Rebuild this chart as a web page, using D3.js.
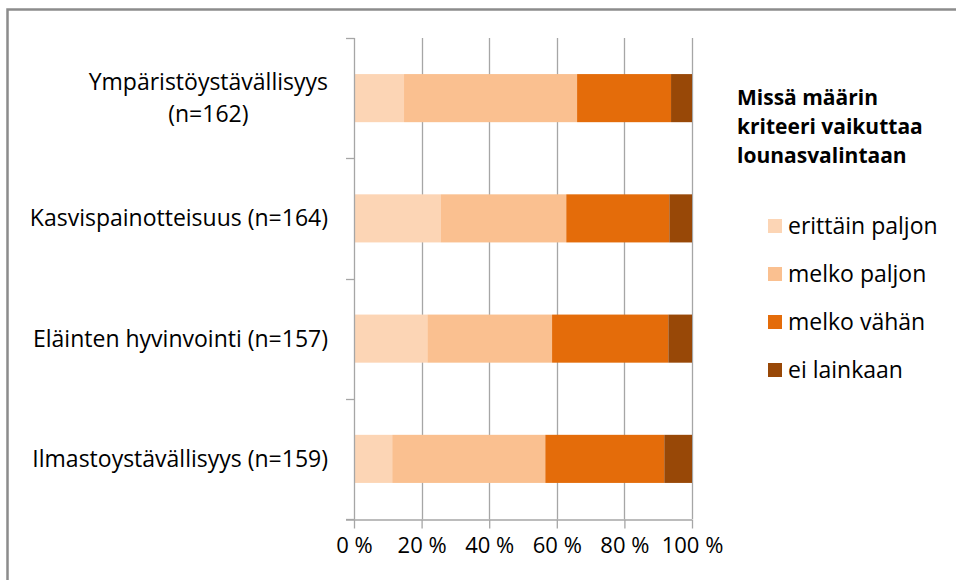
<!DOCTYPE html>
<html>
<head>
<meta charset="utf-8">
<script src="https://cdn.jsdelivr.net/npm/d3@7"></script>
<style>
  html, body { margin: 0; padding: 0; background: #fff; }
  svg { display: block; }
  text { font-family: "Open Sans", "Liberation Sans", sans-serif; }
</style>
</head>
<body>
<svg id="chart" width="956" height="580"></svg>
<script>
const categories = [
  ["Ympäristöystävällisyys", "(n=162)"],
  ["Kasvispainotteisuus (n=164)"],
  ["Eläinten hyvinvointi (n=157)"],
  ["Ilmastoystävällisyys (n=159)"]
];
const seriesNames = ["erittäin paljon", "melko paljon", "melko vähän", "ei lainkaan"];
const erittainPaljon = [14.8, 25.6, 21.7, 11.3];
const melkoPaljon    = [51.2, 37.2, 36.9, 45.3];
const melkoVahan     = [27.8, 30.5, 34.4, 35.2];
const eiLainkaan     = [6.2, 6.7, 7.0, 8.2];
const seriesColors = ["#FCD5B5", "#FAC090", "#E46C0A", "#984807"];
const tickValues = [0, 20, 40, 60, 80, 100];
const legendTitle = ["Missä määrin", "kriteeri vaikuttaa", "lounasvalintaan"];

const seriesValues = [erittainPaljon, melkoPaljon, melkoVahan, eiLainkaan];
const keys = categories.map((c, i) => i);
const rows = keys.map(i => {
  const r = { idx: i };
  seriesNames.forEach((s, j) => r[s] = seriesValues[j][i]);
  return r;
});
const stacked = d3.stack().keys(seriesNames)(rows);

const svg = d3.select("#chart");
// outer frame
svg.append("path")
  .attr("d", "M7.5,580 L7.5,9.5 L956,9.5")
  .attr("fill", "none").attr("stroke", "#8c8c8c").attr("stroke-width", 2.5);

const x = d3.scaleLinear().domain([0, 100]).range([354, 692]);
const y = d3.scaleBand().domain(keys).range([38, 519]).paddingInner(0.6).paddingOuter(0.3);
const yEdges = d3.scaleLinear().domain([0, categories.length]).range([38, 519]);

const gridColor = "#a6a6a6";
// vertical gridlines
svg.append("g").selectAll("line").data(tickValues.slice(1)).join("line")
  .attr("x1", d => Math.round(x(d)) + 0.5).attr("x2", d => Math.round(x(d)) + 0.5)
  .attr("y1", 38).attr("y2", 519)
  .attr("stroke", gridColor).attr("stroke-width", 1.3);

// bars
svg.append("g").selectAll("g").data(stacked).join("g")
  .attr("fill", (d, i) => seriesColors[i])
  .selectAll("rect").data(d => d).join("rect")
  .attr("x", d => x(d[0]))
  .attr("width", d => x(d[1]) - x(d[0]))
  .attr("y", d => y(d.data.idx))
  .attr("height", y.bandwidth());

// x axis
const xAxis = d3.axisBottom(x).tickValues(tickValues).tickSize(9).tickPadding(9)
  .tickFormat(d => d + "\u00a0%");
const gx = svg.append("g").attr("transform", "translate(0,519.5)").call(xAxis);
gx.select(".domain").attr("stroke", gridColor).attr("stroke-width", 1.3).attr("d", "M346,0.5H692");
gx.selectAll(".tick line").attr("stroke", gridColor).attr("stroke-width", 1.3);
gx.selectAll(".tick text").attr("fill", "#000").style("font-size", "22px")
  .style("font-family", "'Open Sans', sans-serif");

// y axis line and ticks between categories
svg.append("line").attr("x1", 354.5).attr("x2", 354.5).attr("y1", 38).attr("y2", 519)
  .attr("stroke", gridColor).attr("stroke-width", 1.3);
svg.append("g").selectAll("line").data(d3.range(categories.length + 1)).join("line")
  .attr("x1", 346).attr("x2", 354.5)
  .attr("y1", d => Math.round(yEdges(d)) + 0.5).attr("y2", d => Math.round(yEdges(d)) + 0.5)
  .attr("stroke", gridColor).attr("stroke-width", 1.3);

// category labels
const labelRight = 328;
const labelSize = "23px";
const lg = svg.append("g");
categories.forEach((lines, i) => {
  const cy = y(i) + y.bandwidth() / 2;
  const lh = 32;
  const t = lg.append("text").attr("fill", "#000").style("font-size", labelSize);
  const startY = cy - (lines.length - 1) * lh / 2;
  if (lines.length === 1) {
    t.attr("x", labelRight).attr("y", startY).attr("dy", "0.35em")
      .attr("text-anchor", "end").text(lines[0]);
  } else {
    const tmp = lg.append("text").style("font-size", labelSize).text(lines[0]);
    const w = tmp.node().getComputedTextLength();
    tmp.remove();
    const cx = labelRight - w / 2;
    lines.forEach((ln, k) => {
      t.append("tspan").attr("x", cx).attr("y", startY + k * lh).attr("dy", "0.35em")
        .attr("text-anchor", "middle").text(ln);
    });
  }
});

// legend
const leg = svg.append("g");
legendTitle.forEach((ln, k) => {
  leg.append("text").attr("x", 737).attr("y", 105 + k * 29)
    .style("font-size", "21px").style("font-weight", "bold").attr("fill", "#000").text(ln);
});
const legendYs = d3.scalePoint().domain(seriesNames).range([226, 370]);
seriesNames.forEach((s, j) => {
  const cy = legendYs(s);
  leg.append("rect").attr("x", 768).attr("y", cy - 7).attr("width", 14).attr("height", 14)
    .attr("fill", seriesColors[j]);
  leg.append("text").attr("x", 788).attr("y", cy).attr("dy", "0.35em")
    .style("font-size", "23px").attr("fill", "#000").text(s);
});
</script>
</body>
</html>
